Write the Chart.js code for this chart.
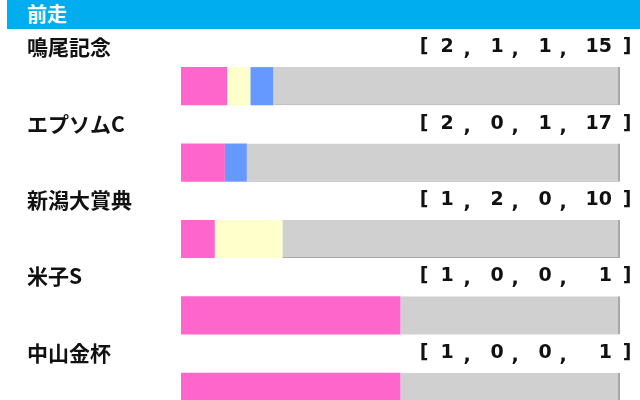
<!DOCTYPE html>
<html>
<head>
<meta charset="utf-8">
<script src="https://cdn.jsdelivr.net/npm/chart.js@4"></script>
<style>
  body { margin: 0; background: #fff; overflow: hidden; }
  #wrap { position: relative; width: 640px; height: 440px; }
  #head {
    position: absolute; left: 7px; top: 0; width: 633px; height: 29px;
    background: #00AEEF; color: #fff; z-index: 2;
    font: bold 20px "Noto Sans CJK JP", sans-serif; line-height: 27px;
    padding-left: 20px; box-sizing: border-box;
  }
</style>
</head>
<body>
<div id="wrap">
  <div id="head">前走</div>
  <canvas id="myChart"></canvas>
</div>
<script>
const races = ['鳴尾記念', 'エプソムC', '新潟大賞典', '米子S', '中山金杯'];
const firsts = [2, 2, 1, 1, 1];
const seconds = [1, 0, 2, 0, 0];
const thirds = [1, 1, 0, 0, 0];
const others = [15, 17, 10, 1, 1];

const totals = races.map((r, i) => firsts[i] + seconds[i] + thirds[i] + others[i]);
const pct = (arr) => arr.map((v, i) => v / totals[i] * 100);

// race name and [1st, 2nd, 3rd, other] counts above each bar
const rowLabels = {
  id: 'rowLabels',
  afterDraw(chart) {
    const ctx = chart.ctx;
    const y = chart.scales.y;
    ctx.save();
    ctx.fillStyle = '#111';
    ctx.textBaseline = 'middle';
    races.forEach((name, i) => {
      const ty = y.getPixelForValue(i) - 39;
      ctx.font = 'bold 21px "Noto Sans CJK JP", sans-serif';
      ctx.textAlign = 'left';
      ctx.fillText(name, 27, ty);

      ctx.font = 'bold 19px "DejaVu Sans", sans-serif';
      ctx.textAlign = 'center';
      ctx.fillText('[', 424, ty);
      ctx.fillText(']', 627, ty);
      ctx.fillText(',', 467, ty + 3);
      ctx.fillText(',', 515, ty + 3);
      ctx.fillText(',', 563, ty + 3);
      ctx.fillText(String(firsts[i]), 447, ty);
      ctx.fillText(String(seconds[i]), 497, ty);
      ctx.fillText(String(thirds[i]), 545, ty);
      ctx.textAlign = 'right';
      ctx.fillText(String(others[i]), 612, ty);
    });
    ctx.restore();
  }
};

window.onload = function () {
  const ctx = document.getElementById('myChart').getContext('2d');
  const common = { barPercentage: 0.5, categoryPercentage: 1.0, borderSkipped: false };

  new Chart(ctx, {
    type: 'bar',
    data: {
      labels: races,
      datasets: [
        { label: '1着', data: pct(firsts), backgroundColor: '#FF66CC', ...common },
        { label: '2着', data: pct(seconds), backgroundColor: '#FFFFCC', ...common },
        { label: '3着', data: pct(thirds), backgroundColor: '#6699FF', ...common },
        { label: '着外', data: pct(others), backgroundColor: '#D0D0D0',
          borderColor: '#A8A8A8', borderWidth: { right: 2, bottom: 1, top: 0, left: 0 }, ...common }
      ]
    },
    options: {
      indexAxis: 'y',
      responsive: true,
      maintainAspectRatio: false,
      animation: false,
      layout: { padding: { left: 181, right: 20, top: 48, bottom: 10 } },
      plugins: { legend: { display: false }, tooltip: { enabled: false } },
      scales: {
        x: { stacked: true, min: 0, max: 100, display: false },
        y: { stacked: true, display: false }
      }
    },
    plugins: [rowLabels]
  });
};
</script>
</body>
</html>
